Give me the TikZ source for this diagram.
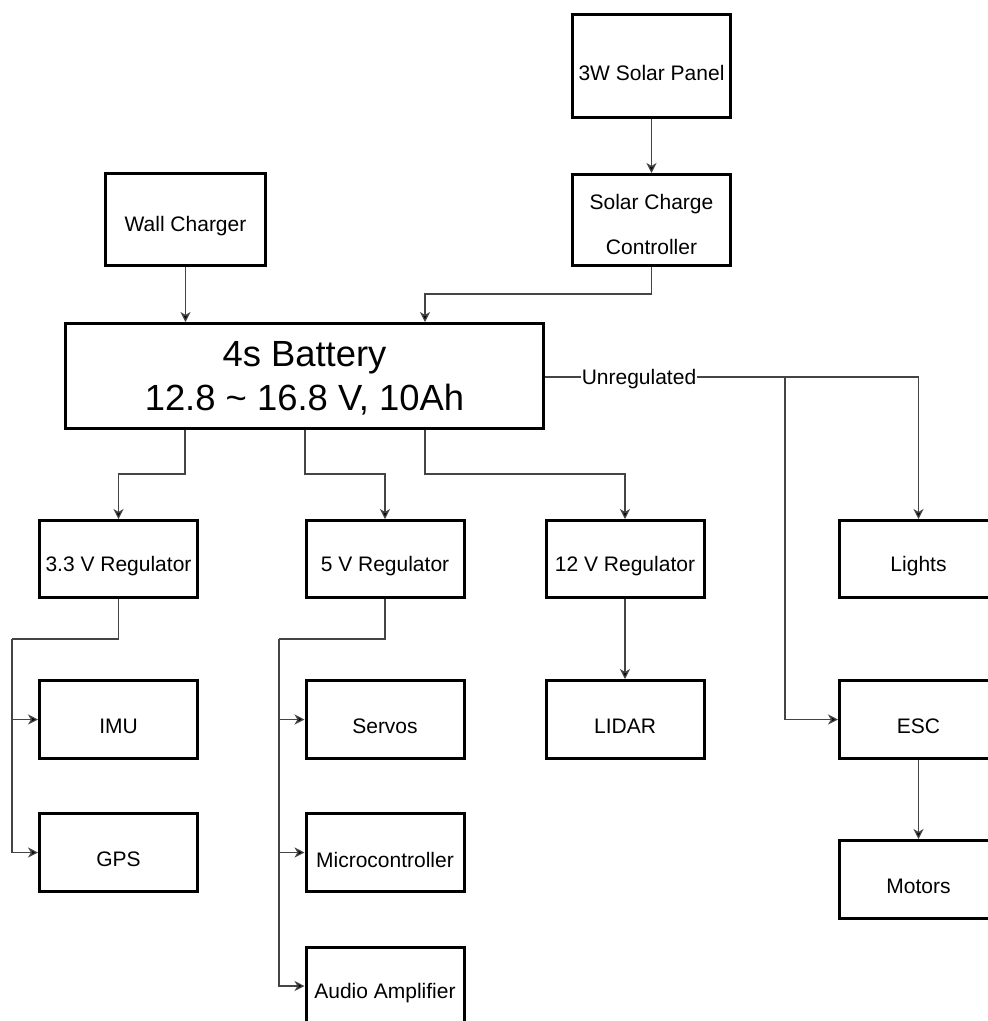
\documentclass[tikz,border=0pt]{standalone}
\usepackage{fontspec}
\setmainfont{Liberation Sans}
\usetikzlibrary{arrows.meta}
\definecolor{wire}{HTML}{444444}
\newcommand{\lowr}[2][7pt]{\raisebox{-#1}[\height][\depth]{#2}}
\tikzset{
  blk/.style={draw=black, line width=3pt, minimum width=158pt, minimum height=78pt, inner sep=0pt, align=center, font=\fontsize{21}{25}\selectfont, text=black},
  conn/.style={draw=wire, line width=1.2pt, -{Stealth[length=10pt,width=10pt,inset=3pt,fill=black]}},
  wireline/.style={draw=wire, line width=1.2pt}
}
\begin{document}
\begin{tikzpicture}[x=1pt,y=-1pt]
\useasboundingbox (0,0) rectangle (988,1021);
\clip (0,0) rectangle (988,1021);
\fill[white] (0,0) rectangle (988,1021);

% nodes
\node[blk, minimum width=160pt, minimum height=92pt] (wall) at (185.5,219.5) {\lowr{Wall Charger}};
\node[blk, minimum height=103pt] (panel) at (651.5,66) {\lowr{3W Solar Panel}};
\node[blk, minimum height=91pt] (scc) at (651.5,220) {\lowr{\begin{tabular}{@{}c@{}}Solar Charge\\[20pt]Controller\end{tabular}}};
\node[blk, minimum width=478pt, minimum height=105pt, font=\fontsize{36.4}{44}\selectfont] (bat) at (304.5,376) {\lowr[4pt]{\begin{tabular}{@{}c@{}}4s Battery\\12.8 \~{} 16.8 V, 10Ah\end{tabular}}};

\node[blk, minimum height=77pt] (r33) at (118.5,559) {\lowr{3.3 V Regulator}};
\node[blk, minimum height=77pt] (r5) at (385,559) {\lowr{5 V Regulator}};
\node[blk, minimum height=77pt] (r12) at (625,559) {\lowr{12 V Regulator}};
\node[blk, minimum height=77pt] (lights) at (918.5,559) {\lowr{Lights}};

\node[blk] (imu) at (118.5,719.5) {\lowr{IMU}};
\node[blk] (gps) at (118.5,852.5) {\lowr{GPS}};
\node[blk] (servos) at (385,719.5) {\lowr{Servos}};
\node[blk] (micro) at (385,852.5) {\lowr{Microcontroller}};
\node[blk] (audio) at (385,986) {\lowr{Audio Amplifier}};
\node[blk] (lidar) at (625,719.5) {\lowr{LIDAR}};
\node[blk] (esc) at (918.5,719.5) {\lowr{ESC}};
\node[blk] (motors) at (918.5,879.5) {\lowr{Motors}};

% junction coordinates
\coordinate (j33) at (12,639);
\coordinate (j5) at (279,639);
\coordinate (ju) at (785,377);
\coordinate (ul) at (918.5,377);

% charging
\draw[conn] (wall.south) -- (wall.south |- bat.north);
\draw[conn] (panel.south) -- (scc.north);
\draw[conn] (scc.south) -- ++(0,27) -| ([xshift=120.5pt]bat.north);

% battery to regulators
\draw[conn] ([xshift=-119.5pt]bat.south) -- ++(0,44) -| (r33.north);
\draw[conn] ([xshift=0.5pt]bat.south) -- ++(0,44) -| (r5.north);
\draw[conn] ([xshift=120.5pt]bat.south) -- ++(0,44) -| (r12.north);

% 3.3 V
\draw[wireline] (r33.south) |- (j33);
\draw[conn] (j33) |- (imu.west);
\draw[conn] (j33) |- (gps.west);

% 5 V
\draw[wireline] (r5.south) |- (j5);
\draw[conn] (j5) |- (servos.west);
\draw[conn] (j5) |- (micro.west);
\draw[conn] (j5) |- (audio.west);

% 12 V
\draw[conn] (r12.south) -- (lidar.north);

% unregulated
\draw[conn] (bat.east |- ul) -- (ul) -- (lights.north);
\node[fill=white, inner sep=1pt, font=\fontsize{21}{25}\selectfont] (unreg) at (639,377) {\lowr[2pt]{Unregulated}};
\draw[conn] (ju) |- (esc.west);
\draw[conn] (esc.south) -- (motors.north);
\end{tikzpicture}
\end{document}
